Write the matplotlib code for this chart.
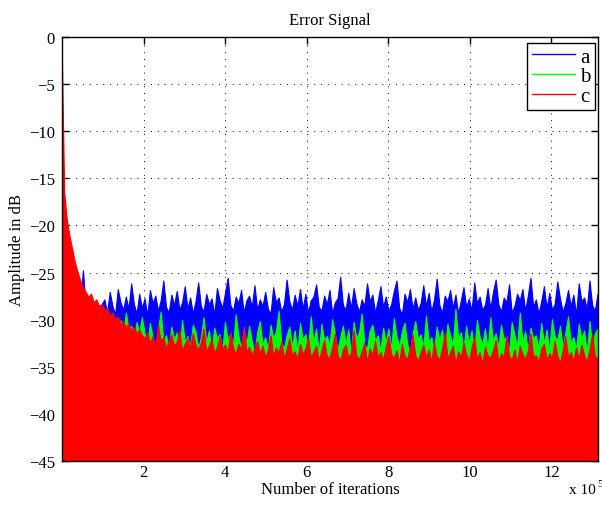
import numpy as np
import matplotlib
matplotlib.use("Agg")
import matplotlib.pyplot as plt

# ---------------- data ----------------
n_iter_max = 1.314e6
n_points = 201

series_labels = ["a", "b", "c"]
series_colors = [(0, 0, 1), (0, 1, 0), (1, 0, 0)]

a_peaks = [
    -5.0, -20.0, -22.0, -24.0, -25.5, -26.5, -27.5, -28.0,
    -24.8, -28.6, -29.2, -27.4, -29.6, -28.1, -29.0, -28.4,
    -27.9, -29.3, -27.1, -28.6, -29.5, -26.8, -28.2, -29.0, -27.6, -28.9,
    -26.2, -28.4, -29.4, -27.3, -28.8, -27.8, -29.6, -26.9, -28.3, -27.5,
    -29.1, -28.0, -25.9, -28.7, -29.3, -27.4, -28.5, -27.0, -29.0, -28.2,
    -26.5, -28.9, -27.7, -29.4, -28.1, -26.1, -28.6, -29.2, -27.3, -28.4,
    -27.8, -29.5, -26.7, -28.0, -28.8, -27.2, -25.6, -28.5, -29.1, -27.6,
    -28.3, -26.9, -29.3, -28.0, -27.5, -28.7, -26.4, -29.0, -27.9, -28.6,
    -27.1, -28.9, -29.4, -26.6, -28.2, -27.7, -29.2, -28.4, -25.8, -28.1,
    -29.0, -27.4, -28.6, -26.8, -28.9, -27.3, -29.3, -28.0, -27.6, -26.3,
    -28.7, -29.1, -27.5, -28.4, -26.9, -29.4, -28.2, -27.8, -25.5, -28.5,
    -29.0, -27.2, -28.8, -26.7, -28.3, -29.2, -27.9, -28.6, -26.2, -28.1,
    -27.4, -29.3, -28.0, -26.5, -28.7, -27.6, -29.1, -28.4, -27.0, -25.9,
    -28.8, -29.5, -27.3, -28.2, -26.8, -28.9, -27.7, -29.0, -28.3, -26.4,
    -28.6, -27.2, -29.2, -27.9, -25.7, -28.5, -29.3, -27.5, -28.1, -26.9,
    -28.8, -27.4, -29.4, -28.0, -26.6, -28.7, -27.8, -29.1, -26.1, -28.3,
    -27.6, -29.0, -28.5, -26.7, -28.9, -27.1, -25.8, -28.4, -29.2, -27.7,
    -28.2, -26.3, -29.3, -28.6, -27.3, -28.0, -26.8, -29.1, -27.5, -25.6,
    -28.7, -27.9, -29.4, -28.1, -26.5, -28.8, -27.2, -29.0, -28.4, -26.0,
    -27.8, -29.2, -28.3, -26.9, -28.6, -27.4, -29.5, -26.2, -28.1, -27.7,
    -28.9, -25.9, -28.5, -29.1, -27.3,
]

b_peaks = [
    -5.0, -21.0, -23.0, -25.0, -26.5, -27.5, -28.5, -29.0, -29.5, -30.0,
    -30.5, -31.0, -31.0, -31.5, -31.5,
    -29.6, -30.8, -31.5, -29.9, -31.2, -30.4, -32.0, -30.1, -31.6, -29.3,
    -31.0, -30.7, -32.2, -30.3, -31.4, -29.8,
    -31.5, -32.6, -30.4, -31.9, -33.2, -31.1, -29.2, -32.3, -31.7, -33.0,
    -30.8, -32.1, -31.4, -33.5, -30.1, -32.4, -31.8, -32.9, -30.6, -31.3,
    -33.1, -31.9, -29.8, -32.5, -31.2, -33.4, -30.9, -32.0, -31.6, -33.3,
    -30.3, -32.2, -31.5, -32.8, -29.5, -31.8, -33.0, -31.1, -32.6, -30.7,
    -32.3, -33.6, -31.4, -30.2, -32.7, -31.9, -33.2, -30.6, -32.0, -31.3,
    -29.1, -32.5, -33.1, -31.7, -30.8, -32.9, -31.2, -33.4, -30.4, -32.1,
    -31.6, -33.0, -29.7, -32.4, -31.0, -33.5, -30.5, -32.2, -31.8, -32.8,
    -30.0, -31.5, -33.3, -31.9, -30.7, -32.6, -31.1, -33.7, -30.3, -32.0,
    -31.4, -29.4, -32.7, -33.1, -31.2, -30.6, -32.3, -31.7, -33.4, -30.9,
    -32.5, -31.0, -33.2, -29.9, -31.8, -32.9, -31.3, -30.4, -32.6, -33.5,
    -31.5, -30.2, -32.1, -31.6, -33.0, -29.6, -32.4, -31.9, -33.3, -30.8,
    -32.2, -31.1, -33.6, -30.5, -31.7, -32.8, -28.9, -32.0, -31.4, -33.1,
    -30.7, -32.5, -31.2, -33.4, -30.1, -31.8, -32.7, -31.0, -33.2, -29.8,
    -32.3, -31.5, -33.0, -30.6, -32.1, -31.9, -33.5, -30.3, -31.6, -32.9,
    -29.3, -32.4, -31.3, -33.3, -30.9, -32.0, -31.7, -33.1, -30.4, -32.6,
    -31.1, -33.4, -30.0, -31.8, -32.2, -30.7, -33.0, -31.4, -29.7, -32.5,
    -31.9, -33.2, -30.5, -32.1, -31.2, -33.6, -30.2, -32.7, -31.5, -31.0,
]

c_peaks = [
    0.0, -16.5, -19.5, -21.2, -22.6, -24.0, -25.0, -25.9, -26.6, -27.1,
    -27.6, -27.3, -28.2, -27.9, -28.6, -28.4, -29.1, -28.8, -29.6, -29.3,
    -30.0, -29.7, -30.5, -30.2, -30.9, -30.4, -31.2, -30.8, -31.5, -31.1,
    -31.7,
    -32.0, -31.4, -32.5, -31.8, -32.9, -30.6, -32.3, -31.9, -33.1, -32.2,
    -31.6, -32.8, -32.4, -31.2, -33.3, -32.6, -32.0, -33.0, -31.5, -32.7,
    -33.2, -32.5, -31.0, -33.4, -32.8, -32.1, -33.6, -32.9, -31.8, -33.1,
    -32.7, -33.5, -31.4, -33.0, -33.7, -32.6, -33.2, -30.8, -33.4, -32.9,
    -33.8, -33.1, -32.3, -33.6, -32.8, -34.0, -33.3, -31.7, -33.9, -33.0,
    -33.5, -32.4, -34.1, -33.2, -32.0, -33.8, -33.4, -34.2, -32.6, -33.7,
    -33.1, -31.9, -34.0, -33.5, -32.8, -34.3, -33.3, -32.2, -33.9, -34.1,
    -33.0, -31.5, -33.8, -34.4, -33.2, -32.7, -34.0, -33.6, -31.2, -33.9,
    -34.2, -33.4, -32.5, -34.5, -33.1, -33.8, -32.3, -34.0, -33.5, -34.3,
    -32.9, -31.8, -33.7, -34.1, -33.3, -34.6, -32.6, -33.9, -34.2, -33.0,
    -31.6, -33.8, -34.4, -33.5, -32.7, -34.0, -33.2, -34.5, -32.4, -33.9,
    -34.3, -33.1, -31.4, -34.1, -33.6, -32.8, -34.6, -33.4, -34.0, -32.5,
    -33.7, -34.4, -33.0, -31.9, -34.2, -33.5, -34.7, -32.9, -33.8, -34.1,
    -33.3, -32.2, -34.5, -33.6, -34.0, -31.7, -33.9, -34.3, -33.2, -34.6,
    -32.8, -33.7, -34.2, -33.4, -31.5, -34.0, -33.8, -34.5, -33.1, -32.6,
    -34.3, -33.6, -34.1, -32.3, -33.9, -34.6, -33.3, -31.8, -34.0, -33.5,
    -34.4, -33.0, -34.2, -32.7, -33.8, -34.5, -33.2, -31.6, -33.9, -34.1,
]

x_ticks = [2e5, 4e5, 6e5, 8e5, 10e5, 12e5]
x_tick_labels = ["2", "4", "6", "8", "10", "12"]
y_ticks = [0, -5, -10, -15, -20, -25, -30, -35, -40, -45]
y_tick_labels = ["0", "\u22125", "\u221210", "\u221215", "\u221220", "\u221225",
                 "\u221230", "\u221235", "\u221240", "\u221245"]

iterations = np.linspace(0, n_iter_max, n_points)
all_peaks = [a_peaks, b_peaks, c_peaks]

# ---------------- figure ----------------
plt.rcParams["font.family"] = ["Liberation Serif", "DejaVu Serif"]
W, H = 602, 506
fig = plt.figure(figsize=(W / 100, H / 100), dpi=100)
L, R, T, B = 62, 598, 38, 462
ax = fig.add_axes([L / W, 1 - B / H, (R - L) / W, (B - T) / H])

floor = -80
handles = []
for peaks, col, lab in zip(all_peaks, series_colors, series_labels):
    ax.fill_between(iterations, peaks, floor, color=col, lw=0, zorder=2)
    ax.plot(iterations, peaks, color=col, lw=0.8, zorder=2)
    h, = ax.plot([], [], color=col, lw=1.0, label=lab)
    handles.append(h)

ax.set_xlim(0, n_iter_max)
ax.set_ylim(-45, 0)
ax.set_xticks(x_ticks)
ax.set_xticklabels(x_tick_labels)
ax.set_yticks(y_ticks)
ax.set_yticklabels(y_tick_labels)
ax.tick_params(direction="in", length=5, width=1.0, top=True, right=True,
               labelsize=12, colors="black")
ax.tick_params(axis="x", pad=2)
ax.tick_params(axis="y", pad=5)
for s in ax.spines.values():
    s.set_linewidth(1.0)
    s.set_color("black")
ax.set_axisbelow(True)
ax.grid(True, linestyle=(0, (1, 6)), color="black", lw=0.7)

ax.set_title("Error Signal", fontsize=12, pad=9)
ax.set_xlabel("Number of iterations", fontsize=12, labelpad=1)
ax.set_ylabel("Amplitude in dB", fontsize=12, labelpad=3)

leg = ax.legend(handles=handles, loc="upper right",
                bbox_to_anchor=((595 - L) / (R - L), (B - 44) / (B - T)),
                fontsize=15, frameon=True, fancybox=False, framealpha=1,
                edgecolor="black", handlelength=2.1, handletextpad=0.25,
                labelspacing=0.0, borderpad=0.2, borderaxespad=0)
leg.get_frame().set_linewidth(1.0)

fig.text(596 / W, 1 - 494 / H, "x 10", fontsize=11, ha="right", va="baseline")
fig.text(597 / W, 1 - 487 / H, "5", fontsize=8, ha="left", va="baseline")

fig.savefig("out.png", dpi=100)
